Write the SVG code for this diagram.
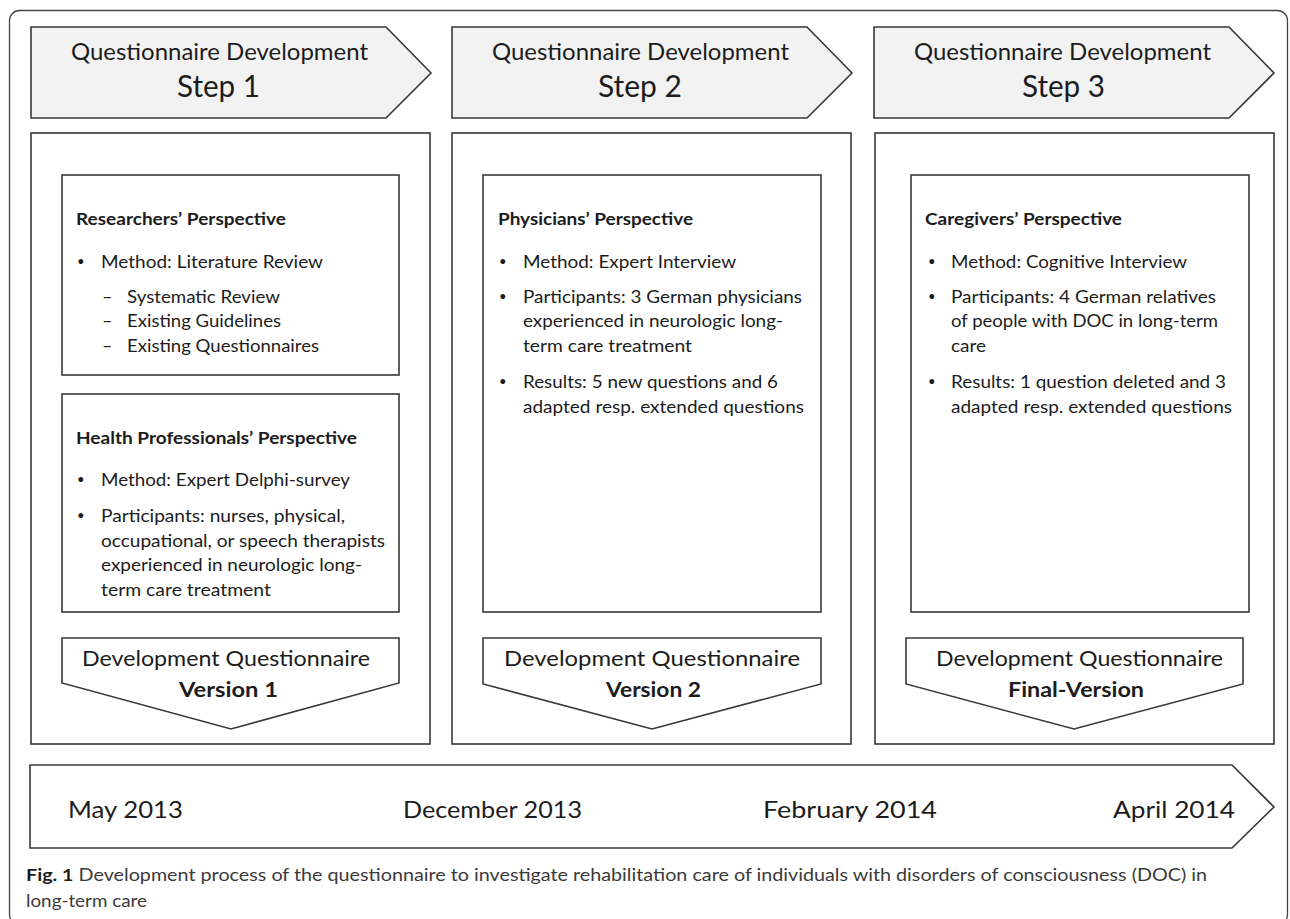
<svg xmlns="http://www.w3.org/2000/svg" width="1290" height="919" viewBox="0 0 1290 919">
<style>
.ln{fill:none;stroke:#383838;stroke-width:1.6}
.bx{fill:#ffffff;stroke:#383838;stroke-width:1.6}
.hd{fill:#f2f2f2;stroke:#383838;stroke-width:1.6}
text{font-family:Lato,"Liberation Sans",sans-serif;fill:#1c1c1c}
.h1{font-size:23.5px;text-anchor:middle}
.h2{font-size:30.5px;text-anchor:middle}
.tt{font-size:17.5px;font-weight:bold}
.tx{font-size:18px}
.bu{font-size:13px}
.vs{font-size:20.5px;text-anchor:middle}
.vb{font-size:20.5px;font-weight:bold;text-anchor:middle}
.tl{font-size:23.5px}
.cap{font-size:17px;fill:#3a3a3a}
.capb{font-weight:bold;fill:#1c1c1c}
</style>
<rect id="frame" x="9.5" y="10.5" width="1278" height="914" rx="10" ry="10" fill="#fff" stroke="#444" stroke-width="1.3"/>

<g id="step1">
<polygon class="hd" points="31,27 386,27 431,73 386,118 31,118"/>
<text class="h1" x="219.5" y="60" textLength="297" lengthAdjust="spacingAndGlyphs">Questionnaire Development</text>
<text class="h2" x="218.5" y="97" textLength="83" lengthAdjust="spacingAndGlyphs">Step 1</text>
<rect class="bx" x="31" y="133" width="399" height="611"/>
</g>

<g id="researchers">
<rect class="bx" x="62" y="175" width="337" height="200"/>
<text class="tt" x="76" y="225" textLength="210" lengthAdjust="spacingAndGlyphs">Researchers’ Perspective</text>
<text class="bu" x="77" y="266">•</text>
<text class="tx" x="101" y="268" textLength="222" lengthAdjust="spacingAndGlyphs">Method: Literature Review</text>
<text class="tx" x="102" y="303">–</text>
<text class="tx" x="127" y="303" textLength="153" lengthAdjust="spacingAndGlyphs">Systematic Review</text>
<text class="tx" x="102" y="327">–</text>
<text class="tx" x="127" y="327" textLength="154" lengthAdjust="spacingAndGlyphs">Existing Guidelines</text>
<text class="tx" x="102" y="352">–</text>
<text class="tx" x="127" y="352" textLength="192" lengthAdjust="spacingAndGlyphs">Existing Questionnaires</text>
</g>

<g id="health">
<rect class="bx" x="62" y="394" width="337" height="218"/>
<text class="tt" x="76" y="444" textLength="281" lengthAdjust="spacingAndGlyphs">Health Professionals’ Perspective</text>
<text class="bu" x="77" y="484">•</text>
<text class="tx" x="101" y="486" textLength="249" lengthAdjust="spacingAndGlyphs">Method: Expert Delphi-survey</text>
<text class="bu" x="77" y="520">•</text>
<text class="tx" x="101" y="522" textLength="244" lengthAdjust="spacingAndGlyphs">Participants: nurses, physical,</text>
<text class="tx" x="101" y="547" textLength="284" lengthAdjust="spacingAndGlyphs">occupational, or speech therapists</text>
<text class="tx" x="101" y="571" textLength="261" lengthAdjust="spacingAndGlyphs">experienced in neurologic long-</text>
<text class="tx" x="101" y="596" textLength="170" lengthAdjust="spacingAndGlyphs">term care treatment</text>
</g>

<g id="version1">
<polygon class="bx" points="62,638 399,638 399,683 231,729 62,683"/>
<text class="vs" x="226" y="666" textLength="288" lengthAdjust="spacingAndGlyphs">Development Questionnaire</text>
<text class="vb" x="228.5" y="697" textLength="99" lengthAdjust="spacingAndGlyphs">Version 1</text>
</g>

<g id="step2">
<polygon class="hd" points="452,27 807,27 852,73 807,118 452,118"/>
<text class="h1" x="640.5" y="60" textLength="297" lengthAdjust="spacingAndGlyphs">Questionnaire Development</text>
<text class="h2" x="640" y="97" textLength="84" lengthAdjust="spacingAndGlyphs">Step 2</text>
<rect class="bx" x="452" y="133" width="399" height="611"/>
</g>

<g id="physicians">
<rect class="bx" x="483" y="175" width="338" height="437"/>
<text class="tt" x="498" y="225" textLength="195" lengthAdjust="spacingAndGlyphs">Physicians’ Perspective</text>
<text class="bu" x="499" y="266">•</text>
<text class="tx" x="523" y="268" textLength="213" lengthAdjust="spacingAndGlyphs">Method: Expert Interview</text>
<text class="bu" x="499" y="301">•</text>
<text class="tx" x="523" y="303" textLength="279" lengthAdjust="spacingAndGlyphs">Participants: 3 German physicians</text>
<text class="tx" x="523" y="327" textLength="260" lengthAdjust="spacingAndGlyphs">experienced in neurologic long-</text>
<text class="tx" x="523" y="352" textLength="169" lengthAdjust="spacingAndGlyphs">term care treatment</text>
<text class="bu" x="499" y="386">•</text>
<text class="tx" x="523" y="388" textLength="255" lengthAdjust="spacingAndGlyphs">Results: 5 new questions and 6</text>
<text class="tx" x="523" y="413" textLength="281" lengthAdjust="spacingAndGlyphs">adapted resp. extended questions</text>
</g>

<g id="version2">
<polygon class="bx" points="483,638 821,638 821,684 652,729 483,684"/>
<text class="vs" x="652" y="666" textLength="296" lengthAdjust="spacingAndGlyphs">Development Questionnaire</text>
<text class="vb" x="653.5" y="697" textLength="95" lengthAdjust="spacingAndGlyphs">Version 2</text>
</g>

<g id="step3">
<polygon class="hd" points="874,27 1229,27 1274,73 1229,118 874,118"/>
<text class="h1" x="1062.5" y="60" textLength="297" lengthAdjust="spacingAndGlyphs">Questionnaire Development</text>
<text class="h2" x="1063.5" y="97" textLength="83" lengthAdjust="spacingAndGlyphs">Step 3</text>
<rect class="bx" x="875" y="133" width="399" height="611"/>
</g>

<g id="caregivers">
<rect class="bx" x="911" y="175" width="338" height="437"/>
<text class="tt" x="925" y="225" textLength="197" lengthAdjust="spacingAndGlyphs">Caregivers’ Perspective</text>
<text class="bu" x="928" y="266">•</text>
<text class="tx" x="951" y="268" textLength="236" lengthAdjust="spacingAndGlyphs">Method: Cognitive Interview</text>
<text class="bu" x="928" y="301">•</text>
<text class="tx" x="951" y="303" textLength="265" lengthAdjust="spacingAndGlyphs">Participants: 4 German relatives</text>
<text class="tx" x="951" y="327" textLength="267" lengthAdjust="spacingAndGlyphs">of people with DOC in long-term</text>
<text class="tx" x="951" y="352" textLength="35" lengthAdjust="spacingAndGlyphs">care</text>
<text class="bu" x="928" y="386">•</text>
<text class="tx" x="951" y="388" textLength="275" lengthAdjust="spacingAndGlyphs">Results: 1 question deleted and 3</text>
<text class="tx" x="951" y="413" textLength="281" lengthAdjust="spacingAndGlyphs">adapted resp. extended questions</text>
</g>

<g id="version3">
<polygon class="bx" points="906,638 1243,638 1243,684 1074,729 906,684"/>
<text class="vs" x="1079.5" y="666" textLength="287" lengthAdjust="spacingAndGlyphs">Development Questionnaire</text>
<text class="vb" x="1076" y="697" textLength="136" lengthAdjust="spacingAndGlyphs">Final-Version</text>
</g>

<g id="timeline">
<polygon class="bx" points="30,765 1232,765 1274,807 1232,848 30,848"/>
<text class="tl" x="68" y="818" textLength="115" lengthAdjust="spacingAndGlyphs">May 2013</text>
<text class="tl" x="403" y="818" textLength="179" lengthAdjust="spacingAndGlyphs">December 2013</text>
<text class="tl" x="763" y="818" textLength="174" lengthAdjust="spacingAndGlyphs">February 2014</text>
<text class="tl" x="1113" y="818" textLength="122" lengthAdjust="spacingAndGlyphs">April 2014</text>
</g>

<g id="connectors"></g>

<g id="caption">
<text class="cap" x="26" y="881" textLength="1181" lengthAdjust="spacingAndGlyphs"><tspan class="capb">Fig. 1</tspan> Development process of the questionnaire to investigate rehabilitation care of individuals with disorders of consciousness (DOC) in</text>
<text class="cap" x="26" y="907" textLength="121" lengthAdjust="spacingAndGlyphs">long-term care</text>
</g>
</svg>
